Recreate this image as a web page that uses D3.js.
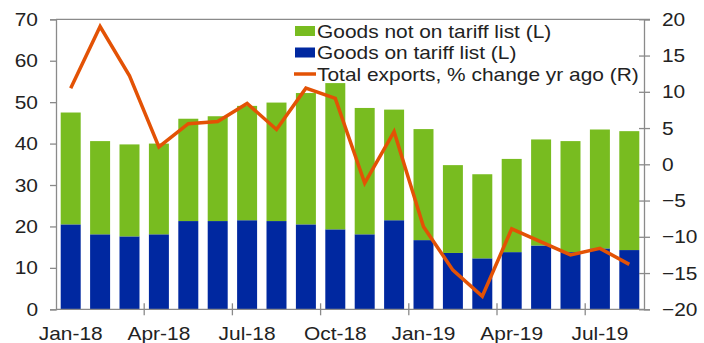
<!DOCTYPE html>
<html>
<head>
<meta charset="utf-8">
<script src="https://cdn.jsdelivr.net/npm/d3@7"></script>
<style>
  html, body { margin: 0; padding: 0; background: #fff; }
  svg { display: block; font-family: "Liberation Sans", Arial, sans-serif; }
</style>
</head>
<body>
<svg id="chart" width="704" height="343"></svg>
<script>
// Monthly exports: goods on / not on the tariff list (left axis) and
// total exports, % change from a year ago (right axis).
const months = ["Jan-18","Feb-18","Mar-18","Apr-18","May-18","Jun-18","Jul-18","Aug-18","Sep-18","Oct-18","Nov-18","Dec-18",
                "Jan-19","Feb-19","Mar-19","Apr-19","May-19","Jun-19","Jul-19","Aug-19"];
const onTariff = [20.5, 18.1, 17.6, 18.1, 21.3, 21.3, 21.5, 21.3, 20.5, 19.3, 18.1, 21.5,
                  16.7, 13.6, 12.3, 13.8, 15.4, 13.8, 14.7, 14.3];
const notOnTariff = [27.0, 22.5, 22.2, 21.9, 24.7, 25.3, 27.6, 28.6, 31.7, 35.3, 30.5, 26.7,
                     26.8, 21.2, 20.3, 22.5, 25.6, 26.8, 28.7, 28.7];
const totalChange = [10.5, 19.0, 12.2, 2.4, 5.6, 5.9, 8.4, 4.8, 10.5, 9.1, -2.6, 4.5,
                     -8.6, -14.6, -18.2, -8.9, -10.7, -12.5, -11.6, -13.8];
const xTickLabels = ["Jan-18","Apr-18","Jul-18","Oct-18","Jan-19","Apr-19","Jul-19"];
const leftTicks = [0, 10, 20, 30, 40, 50, 60, 70];
const rightTicks = [-20, -15, -10, -5, 0, 5, 10, 15, 20];

const legendItems = [
  { label: "Goods not on tariff list (L)", type: "rect", color: "#78bc20" },
  { label: "Goods on tariff list (L)", type: "rect", color: "#0028a0" },
  { label: "Total exports, % change yr ago (R)", type: "line", color: "#e35205" }
];

const svg = d3.select("#chart");
const m = { left: 56, right: 644, top: 19.3, bottom: 309.3 };
const axisColor = "#8a8a8a";
const fontSize = 19;
const textStretch = 1.1;

// Widen text glyphs slightly (wide sans look)
function widen(sel) {
  sel.each(function () {
    const len = this.getComputedTextLength();
    d3.select(this).attr("textLength", len * textStretch).attr("lengthAdjust", "spacingAndGlyphs");
  });
}

const x = d3.scaleBand().domain(months).range([m.left, m.right]).paddingInner(0.32).paddingOuter(0.16);
const yL = d3.scaleLinear().domain([0, 70]).range([m.bottom, m.top]);
const yR = d3.scaleLinear().domain([-20, 20]).range([m.bottom, m.top]);

// Stacked bars
const rows = months.map((mo, i) => ({ month: mo, on: onTariff[i], off: notOnTariff[i] }));
const stack = d3.stack().keys(["on", "off"])(rows);
const barColors = { on: "#0028a0", off: "#78bc20" };
svg.append("g").selectAll("g").data(stack).join("g")
  .attr("fill", d => barColors[d.key])
  .selectAll("rect").data(d => d).join("rect")
  .attr("x", d => x(d.data.month))
  .attr("width", x.bandwidth())
  .attr("y", d => yL(d[1]))
  .attr("height", d => yL(d[0]) - yL(d[1]));

// Frame: top border line
svg.append("line")
  .attr("x1", m.left).attr("x2", m.right + 6)
  .attr("y1", m.top).attr("y2", m.top)
  .attr("stroke", axisColor).attr("stroke-width", 1.3);

// Left axis
const leftAxis = svg.append("g").attr("transform", `translate(${m.left},0)`)
  .call(d3.axisLeft(yL).tickValues(leftTicks).tickSize(6).tickPadding(12));
// Right axis, ticks crossing the line
const rightAxis = svg.append("g").attr("transform", `translate(${m.right},0)`)
  .call(d3.axisRight(yR).tickValues(rightTicks).tickSize(6).tickPadding(12));
rightAxis.selectAll(".tick line").attr("x1", -5);

// Bottom axis: ticks on quarter boundaries, labels centred under months
const bottom = svg.append("g").attr("transform", `translate(0,${m.bottom})`);
bottom.append("line").attr("x1", m.left).attr("x2", m.right).attr("stroke", axisColor).attr("stroke-width", 1.3);
const step = x.step();
const boundaries = d3.range(3, months.length, 3).map(i => x(months[i]) - (step - x.bandwidth()) / 2);
bottom.selectAll("line.qt").data(boundaries).join("line").attr("class", "qt")
  .attr("x1", d => d).attr("x2", d => d).attr("y1", -6).attr("y2", 6)
  .attr("stroke", axisColor).attr("stroke-width", 1.3);
bottom.selectAll("text").data(xTickLabels).join("text")
  .attr("x", d => x(d) + x.bandwidth() / 2)
  .attr("y", 31)
  .attr("text-anchor", "middle")
  .attr("fill", "#222")
  .attr("font-size", fontSize)
  .text(d => d)
  .call(widen);

[leftAxis, rightAxis].forEach(g => {
  g.select(".domain").attr("stroke", axisColor).attr("stroke-width", 1.3);
  g.selectAll(".tick line").attr("stroke", axisColor).attr("stroke-width", 1.3);
  g.selectAll(".tick text").attr("fill", "#222").attr("font-size", fontSize)
    .attr("font-family", "'Liberation Sans', Arial, sans-serif")
    .call(widen);
});

// Total exports line
const line = d3.line()
  .x((d, i) => x(months[i]) + x.bandwidth() / 2)
  .y(d => yR(d));
svg.append("path").datum(totalChange)
  .attr("d", line)
  .attr("fill", "none")
  .attr("stroke", "#e35205")
  .attr("stroke-width", 3.5)
  .attr("stroke-linejoin", "miter");

// Legend
const legend = svg.append("g").attr("transform", "translate(294,31)");
const li = legend.selectAll("g").data(legendItems).join("g")
  .attr("transform", (d, i) => `translate(0,${i * 21.5})`);
li.filter(d => d.type === "rect").append("rect")
  .attr("x", 1).attr("y", -5).attr("width", 20).attr("height", 10)
  .attr("fill", d => d.color);
li.filter(d => d.type === "line").append("line")
  .attr("x1", 0).attr("x2", 22).attr("y1", 0).attr("y2", 0)
  .attr("stroke", d => d.color).attr("stroke-width", 3.5);
li.append("text")
  .attr("x", 23).attr("y", 6.5)
  .attr("fill", "#222")
  .attr("font-size", fontSize)
  .text(d => d.label)
  .call(widen);
</script>
</body>
</html>
